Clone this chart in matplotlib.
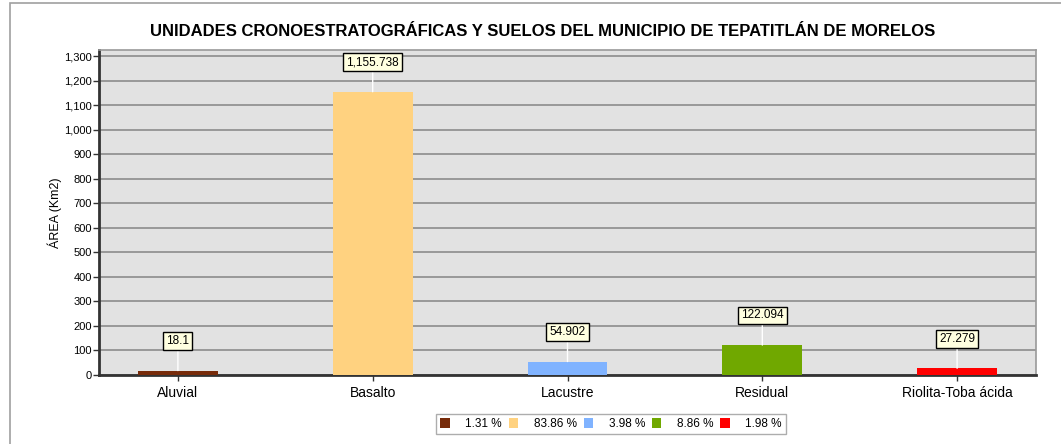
import matplotlib
matplotlib.use("Agg")
import matplotlib.pyplot as plt
from matplotlib.patches import Rectangle, Patch
from matplotlib.ticker import FuncFormatter, MultipleLocator

categories = ["Aluvial", "Basalto", "Lacustre", "Residual", "Riolita-Toba ácida"]
values = [18.1, 1155.738, 54.902, 122.094, 27.279]
value_labels = ["18.1", "1,155.738", "54.902", "122.094", "27.279"]
percent_labels = ["1.31 %", "83.86 %", "3.98 %", "8.86 %", "1.98 %"]
colors = ["#772B0A", "#FFD280", "#80B3FF", "#70A800", "#FF0000"]

plt.rcParams['font.family'] = ['Liberation Sans', 'DejaVu Sans']

W, H = 1061, 444
fig = plt.figure(figsize=(W / 100, H / 100), dpi=100)
fig.patches.append(Rectangle((10 / W, -0.1), 1.2, 1 - 3 / H + 0.1, transform=fig.transFigure,
                             fill=False, edgecolor="#A0A0A0", linewidth=1.2))

ax = fig.add_axes([99 / W, 1 - 375 / H, (1036 - 99) / W, (375 - 50) / H])
ax.set_facecolor("#E2E2E2")
x = list(range(len(categories)))
ax.bar(x, values, width=0.41, color=colors, zorder=3)
ax.set_xlim(-0.405, 4.405)
ax.set_ylim(0, 1326)
ax.yaxis.set_major_locator(MultipleLocator(100))
ax.yaxis.set_major_formatter(FuncFormatter(lambda v, p: f"{int(v):,}"))
ax.grid(axis="y", color="#8C8C8C", linewidth=1.2, zorder=1)
ax.set_xticks(x)
ax.set_xticklabels(categories, fontsize=10)
ax.tick_params(axis="y", labelsize=8, length=4, width=1, color="#333333", pad=1)
ax.tick_params(axis="x", length=4, width=1, color="#333333", pad=4)
for s in ["left", "bottom"]:
    ax.spines[s].set_color("#333333")
    ax.spines[s].set_linewidth(2)
for s in ["right", "top"]:
    ax.spines[s].set_color("#999999")
    ax.spines[s].set_linewidth(1.2)
ax.set_ylabel("ÁREA (Km2)", fontsize=9)
ax.yaxis.set_label_coords(-37 / (1036 - 99), 0.5)

for xi, v, lab in zip(x, values, value_labels):
    ax.annotate(lab, xy=(xi, v), xytext=(0, 17), textcoords="offset points",
                ha="center", va="bottom", fontsize=8.5,
                bbox=dict(boxstyle="square,pad=0.25", facecolor="#FFFFE0", edgecolor="black", linewidth=1),
                arrowprops=dict(arrowstyle="-", color="white", linewidth=1, shrinkA=0, shrinkB=0),
                zorder=5)

fig.text(543 / W, 1 - 32 / H, "UNIDADES CRONOESTRATOGRÁFICAS Y SUELOS DEL MUNICIPIO DE TEPATITLÁN DE MORELOS",
         ha="center", va="center", fontsize=12, fontweight="bold")

handles = [Patch(facecolor=c, edgecolor="none") for c in colors]
leg = fig.legend(handles, percent_labels, loc="center", bbox_to_anchor=(611 / W, 1 - 424 / H),
                 ncol=5, fontsize=8.5, frameon=True, fancybox=False, edgecolor="#999999",
                 handlelength=0.8, handleheight=1.0, handletextpad=1.3, columnspacing=0.6,
                 borderpad=0.35, borderaxespad=0)
leg.get_frame().set_linewidth(1)

fig.savefig("out.png", dpi=100)
